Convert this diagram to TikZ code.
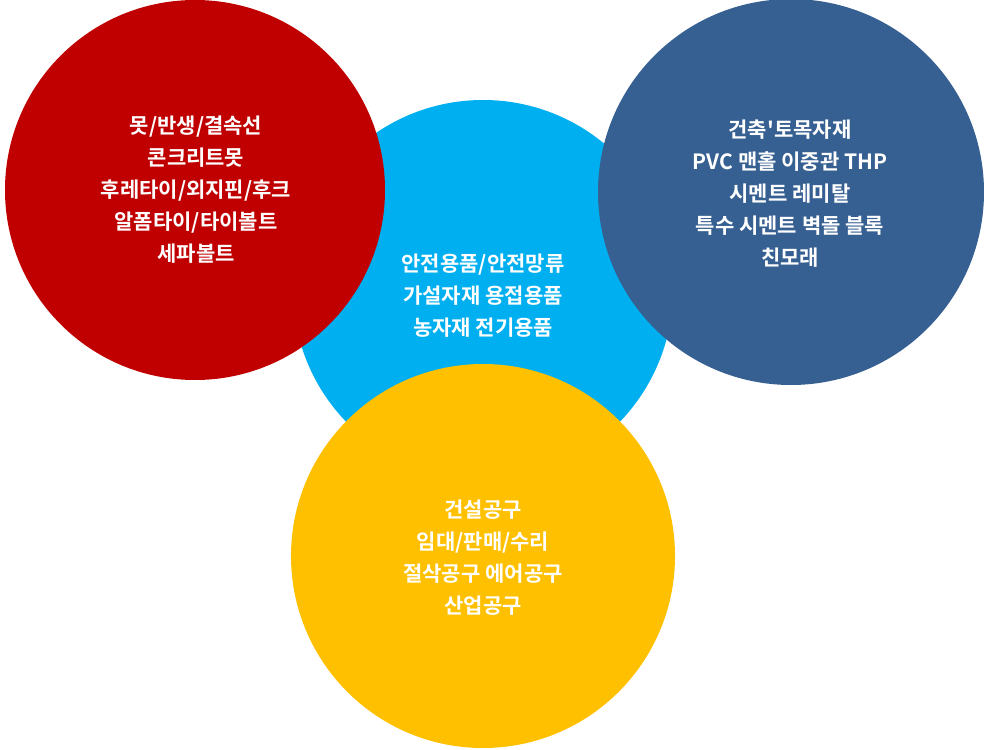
\documentclass[tikz,border=0pt]{standalone}
\usepackage{fontspec}
\newfontfamily\kr{Noto Sans CJK KR}[BoldFont={* Bold}]
\begin{document}
\begin{tikzpicture}[x=1pt,y=-1pt]
                    \tikzset{ball/.style={circle,minimum size=380pt,inner sep=0pt},
                             word/.style={text=white,align=center,font=\kr\bfseries\fontsize{21}{32}\selectfont}}
                    \useasboundingbox (0,0) rectangle (984,749);
                    \node[ball,fill={rgb,255:red,0;green,175;blue,239}] at (483,290) (safety) {};
                    \node[ball,fill={rgb,255:red,192;green,0;blue,0}] at (195,190) (nails) {};
                    \node[ball,fill={rgb,255:red,55;green,96;blue,146},minimum size=386pt] at (791,192) (build) {};
                    \node[ball,fill={rgb,255:red,255;green,192;blue,0},minimum size=384pt] at (483,556) (tools) {};

                    \node[word] at (196,190) (nailtext) {못/반생/결속선\\콘크리트못\\후레타이/외지핀/후크\\알폼타이/타이볼트\\세파볼트};
                    \node[word] at (483,296) (safetytext) {안전용품/안전망류\\가설자재 용접용품\\농자재 전기용품};
                    \node[word] at (790,194) (buildtext) {건축'토목자재\\PVC 맨홀 이중관 THP\\시멘트 레미탈\\특수 시멘트 벽돌 블록\\친모래};
                    \node[word] at (483,558) (tooltext) {건설공구\\임대/판매/수리\\절삭공구 에어공구\\산업공구};
                \end{tikzpicture}
\end{document}
